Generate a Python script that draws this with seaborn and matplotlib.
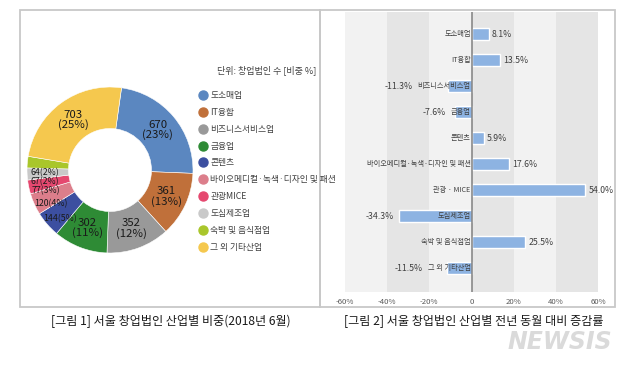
import matplotlib
matplotlib.use('Agg')
import matplotlib.pyplot as plt
import seaborn as sns
import pandas as pd
import numpy as np
from matplotlib.lines import Line2D
from matplotlib.patches import Rectangle

# 데이터
industries = ['도소매업', 'IT융합', '비즈니스서비스업', '금융업', '콘텐츠',
              '바이오메디컬·녹색·디자인 및 패션', '관광·MICE', '도심제조업',
              '숙박 및 음식점업', '그 외 기타산업']
legend_names = ['도소매업', 'IT융합', '비즈니스서비스업', '금융업', '콘텐츠',
                '바이오메디컬·녹색·디자인 및 패션', '관광MICE', '도심제조업',
                '숙박 및 음식점업', '그 외 기타산업']
counts = [670, 361, 352, 302, 144, 120, 77, 67, 64, 703]
colors = ['#5b87c0', '#c0703a', '#999999', '#2e8b35', '#3c4fa0',
          '#dc7e8b', '#e5486f', '#c9c9c9', '#a9c62b', '#f5c84e']

bar_labels = ['도소매업', 'IT융합', '비즈니스서비스업', '금융업', '콘텐츠',
              '바이오메디컬·녹색·디자인 및 패션', '관광 · MICE', '도심제조업',
              '숙박 및 음식점업', '그 외 기타산업']
growth = [8.1, 13.5, -11.3, -7.6, 5.9, 17.6, 54.0, -34.3, 25.5, -11.5]
xticks = [-60, -40, -20, 0, 20, 40, 60]
xtick_labels = ['-60%', '-40%', '-20%', '0', '20%', '40%', '60%']

sns.set_style('white')
plt.rcParams['font.family'] = ['Noto Sans CJK KR', 'DejaVu Sans']

W, H = 639, 373
fig = plt.figure(figsize=(W / 100, H / 100), dpi=100)

def fx(px):
    return px / W

def fy(py):
    return 1 - py / H

# 테두리 박스
for x0, x1 in [(20, 320), (320, 615)]:
    fig.patches.append(Rectangle((fx(x0), fy(307)), fx(x1) - fx(x0), fy(10) - fy(307),
                                 transform=fig.transFigure, fill=False,
                                 edgecolor='#c8c8c8', linewidth=1.3))

# ---- 그림 1: 도넛 차트 ----
ax1 = fig.add_axes([fx(27), fy(253), fx(166), 166 / H])
wedges, _ = ax1.pie(counts, colors=colors, startangle=82, counterclock=False,
                    radius=1, wedgeprops=dict(width=0.5, edgecolor='white', linewidth=0.4))
ax1.set_xlim(-1, 1)
ax1.set_ylim(-1, 1)
ax1.set_aspect('equal')
ax1.axis('off')

total = sum(counts)
for w, c in zip(wedges, counts):
    pct = round(c / total * 100)
    ang = np.deg2rad((w.theta1 + w.theta2) / 2)
    x, y = 0.75 * np.cos(ang), 0.75 * np.sin(ang)
    if c > 200:
        ax1.text(x, y, f'{c}\n({pct}%)', ha='center', va='center',
                 fontsize=8.2, color='#1a1a1a', linespacing=0.95)
    else:
        ax1.annotate(f'{c}({pct}%)', (x, y), xytext=(-2, -6), textcoords='offset points',
                     ha='center', va='center', fontsize=6.3, color='#1a1a1a')

fig.text(fx(217), fy(70), '단위: 창업법인 수 [비중 %]', fontsize=6.5, color='#404040',
         ha='left', va='center')
handles = [Line2D([], [], marker='o', linestyle='', markersize=6.5,
                  markerfacecolor=c, markeredgecolor=c) for c in colors]
fig.legend(handles, legend_names, loc='upper left',
           bbox_to_anchor=(fx(198), fy(91)), frameon=False, fontsize=6.3,
           labelcolor='#404040', handletextpad=0.2, labelspacing=0.9,
           handlelength=1.2, borderaxespad=0, borderpad=0)

# ---- 그림 2: 증감률 막대 ----
ax2 = fig.add_axes([fx(345), fy(292), fx(598) - fx(345), 280 / H])
band_colors = ['#f2f2f2', '#e5e5e5']
for i, start in enumerate(range(-60, 60, 20)):
    ax2.axvspan(start, start + 20, color=band_colors[i % 2], zorder=0, lw=0)

df = pd.DataFrame({'industry': bar_labels, 'growth': growth})
sns.barplot(data=df, x='growth', y='industry', orient='h', color='#8db3e2',
            saturation=1, width=0.46, ax=ax2, zorder=2)
ax2.axvline(0, color='#808080', lw=1.1, zorder=3)
ax2.set_xlim(-60, 60)
ax2.set_ylim(9.92, -0.85)
ax2.set_xticks(xticks)
ax2.set_xticklabels(xtick_labels, fontsize=5.6, color='#595959')
ax2.tick_params(axis='x', length=0, pad=4)
ax2.set_yticks([])
ax2.set_xlabel('')
ax2.set_ylabel('')
for s in ax2.spines.values():
    s.set_visible(False)

cat_texts = []
for i, (lab, v) in enumerate(zip(bar_labels, growth)):
    t = ax2.text(-0.4, i, lab, ha='right', va='center', fontsize=5.2,
                 color='#404040', zorder=4)
    cat_texts.append(t)
    if v > 0:
        ax2.text(v + 1.5, i, f'{v:.1f}%', ha='left', va='center', fontsize=6.3,
                 color='#404040', zorder=4)

fig.canvas.draw()
renderer = fig.canvas.get_renderer()
inv = ax2.transData.inverted()
for i, (t, v) in enumerate(zip(cat_texts, growth)):
    if v < 0:
        bb = t.get_window_extent(renderer)
        x_left = inv.transform((bb.x0, bb.y0))[0]
        xpos = min(v, x_left) - 2.5
        ax2.text(xpos, i, f'{v:.1f}%', ha='right', va='center', fontsize=6.3,
                 color='#404040', zorder=4)

# 캡션
fig.text(fx(171), fy(321), '[그림 1] 서울 창업법인 산업별 비중(2018년 6월)',
         ha='center', va='center', fontsize=8.7, color='#1a1a1a')
fig.text(fx(474), fy(321), '[그림 2] 서울 창업법인 산업별 전년 동월 대비 증감률',
         ha='center', va='center', fontsize=8.7, color='#1a1a1a')

# 워터마크
fig.text(fx(612), fy(342), 'NEWSIS', ha='right', va='center', fontsize=17,
         fontweight='bold', fontstyle='italic', color='#dadada',
         family=['DejaVu Sans'])

fig.savefig('out.png', dpi=100)
